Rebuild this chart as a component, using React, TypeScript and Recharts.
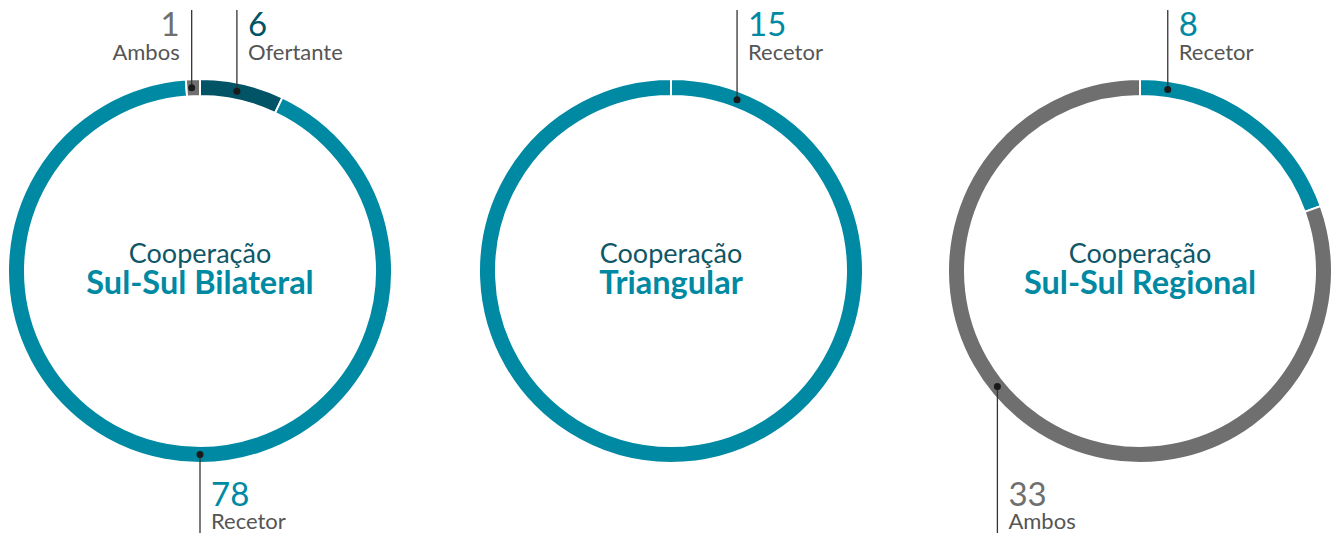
import React from 'react';
import { PieChart, Pie, Cell } from 'recharts';

// ---- data ----
const bilateralNames = ['Ofertante', 'Recetor', 'Ambos'];
const bilateralValues = [6, 78, 1];
const triangularNames = ['Recetor'];
const triangularValues = [15];
const regionalNames = ['Recetor', 'Ambos'];
const regionalValues = [8, 33];

const chartTitles = ['Sul-Sul Bilateral', 'Triangular', 'Sul-Sul Regional'];
const chartPrefix = 'Cooperação';

// ---- styling / layout ----
const FONT = 'Lato, "Open Sans", sans-serif';
const sliceColors: Record<string, string> = {
  Recetor: '#0089a3',
  Ofertante: '#005466',
  Ambos: '#6f6f6f',
};
const numberColors: Record<string, string> = {
  Recetor: '#0089a3',
  Ofertante: '#005466',
  Ambos: '#6f6f6f',
};

type LabelLayout = { angle: number; dir: 'up' | 'down'; side: 'left' | 'right' };
const bilateralLabels: LabelLayout[] = [
  { angle: 11.6, dir: 'up', side: 'right' },
  { angle: 180, dir: 'down', side: 'right' },
  { angle: -2.6, dir: 'up', side: 'left' },
];
const triangularLabels: LabelLayout[] = [{ angle: 21.1, dir: 'up', side: 'right' }];
const regionalLabels: LabelLayout[] = [
  { angle: 8.7, dir: 'up', side: 'right' },
  { angle: 231, dir: 'down', side: 'right' },
];

const build = (names: string[], values: number[]) =>
  names.map((n, i) => ({ name: n, value: values[i] }));

const charts = [
  { data: build(bilateralNames, bilateralValues), labels: bilateralLabels, cx: 200 },
  { data: build(triangularNames, triangularValues), labels: triangularLabels, cx: 671 },
  { data: build(regionalNames, regionalValues), labels: regionalLabels, cx: 1140 },
];

const CY = 271;
const INNER = 175;
const OUTER = 192;

const makeLabel = (layouts: LabelLayout[]) => (props: any) => {
  const { cx, cy, innerRadius, outerRadius, index, payload, value, name } = props;
  const lay = layouts[index];
  if (!lay) return null;
  const r = (Number(innerRadius) + Number(outerRadius)) / 2;
  const rad = (lay.angle * Math.PI) / 180;
  const x = Number(cx) + r * Math.sin(rad);
  const y = Number(cy) - r * Math.cos(rad);
  const endY = lay.dir === 'up' ? 10 : 533;
  const numY = lay.dir === 'up' ? 36 : 506;
  const nameY = lay.dir === 'up' ? 60 : 529;
  const tx = lay.side === 'right' ? x + 11 : x - 12;
  const anchor = lay.side === 'right' ? 'start' : 'end';
  const nm = (payload && payload.name) || name;
  const val = (payload && payload.value) ?? value;
  return (
    <g key={`lbl-${index}`}>
      <line x1={x} y1={y} x2={x} y2={endY} stroke="#333" strokeWidth={1.3} />
      <circle cx={x} cy={y} r={3.5} fill="#1a1a1a" />
      <text x={tx} y={numY} textAnchor={anchor} fontFamily={FONT} fontSize={33} fill={numberColors[nm]}>
        {val}
      </text>
      <text x={tx} y={nameY} textAnchor={anchor} fontFamily={FONT} fontSize={22} fill="#555">
        {nm}
      </text>
    </g>
  );
};

export default function App() {
  return (
    <div style={{ position: 'absolute', left: 0, top: 0, width: 1335, height: 533, background: '#fff' }}>
      <PieChart width={1335} height={533} margin={{ top: 0, right: 0, bottom: 0, left: 0 }}>
        {charts.map((c, ci) => (
          <Pie
            key={ci}
            data={c.data}
            dataKey="value"
            nameKey="name"
            cx={c.cx}
            cy={CY}
            innerRadius={INNER}
            outerRadius={OUTER}
            startAngle={90}
            endAngle={-270}
            stroke="#fff"
            strokeWidth={2}
            labelLine={false}
            label={makeLabel(c.labels)}
            isAnimationActive={false}
          >
            {c.data.map((d, i) => (
              <Cell key={i} fill={sliceColors[d.name]} />
            ))}
          </Pie>
        ))}
        {charts.map((c, ci) => (
          <g key={`t-${ci}`}>
            <text x={c.cx} y={263} textAnchor="middle" fontFamily={FONT} fontSize={27} fill="#0f5667">
              {chartPrefix}
            </text>
            <text x={c.cx} y={294} textAnchor="middle" fontFamily={FONT} fontSize={32.5} fontWeight={700} fill="#0089a3">
              {chartTitles[ci]}
            </text>
          </g>
        ))}
      </PieChart>
    </div>
  );
}
